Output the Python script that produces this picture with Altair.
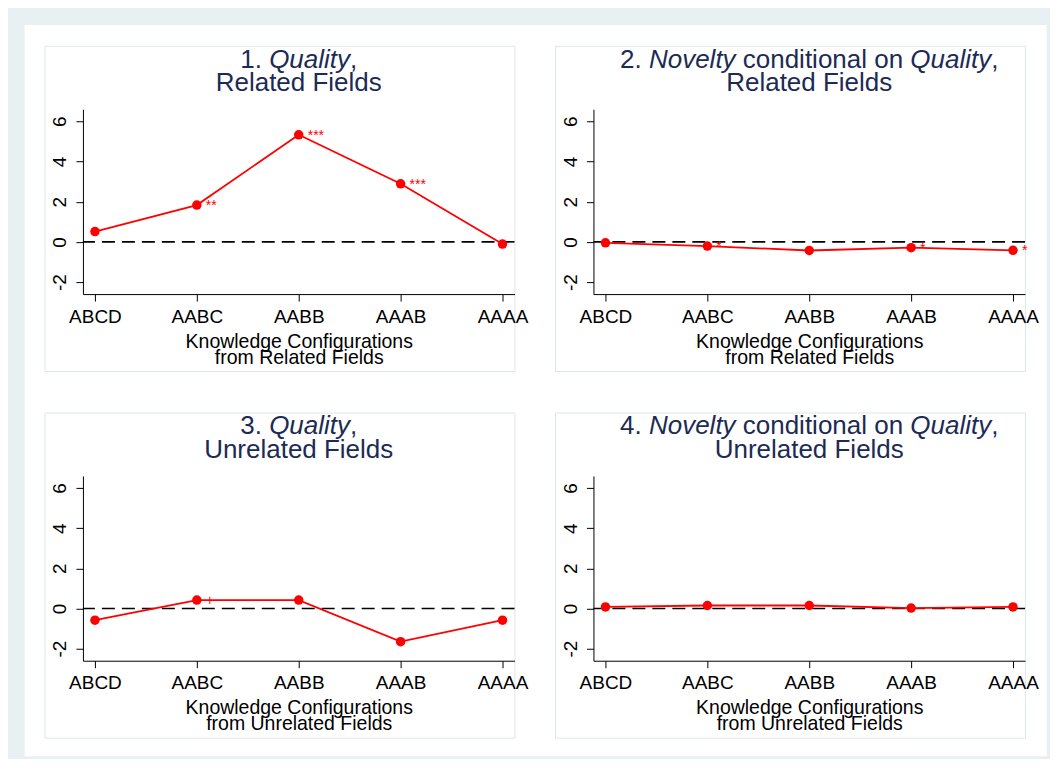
import altair as alt
import pandas as pd

# ---------------- data ----------------
cats = ["ABCD", "AABC", "AABB", "AAAB", "AAAA"]

q_rel = [0.51, 1.83, 5.33, 2.89, -0.11]
q_rel_sig = ["", "**", "***", "***", ""]

n_rel = [-0.05, -0.21, -0.43, -0.29, -0.42]
n_rel_sig = ["", "*", "", "*", "*"]

q_unrel = [-0.58, 0.42, 0.42, -1.65, -0.58]
q_unrel_sig = ["", "+", "", "", ""]

n_unrel = [0.08, 0.15, 0.15, 0.02, 0.08]
n_unrel_sig = ["", "", "", "", ""]

title_q1 = [("1. ", False), ("Quality", True), (",", False)]
title_n2 = [("2. ", False), ("Novelty", True), (" conditional on ", False), ("Quality", True), (",", False)]
title_q3 = [("3. ", False), ("Quality", True), (",", False)]
title_n4 = [("4. ", False), ("Novelty", True), (" conditional on ", False), ("Quality", True), (",", False)]
sub_rel = "Related Fields"
sub_unrel = "Unrelated Fields"
xt_rel = ["Knowledge Configurations", "from Related Fields"]
xt_unrel = ["Knowledge Configurations", "from Unrelated Fields"]

y_ticks = [-2, 0, 2, 4, 6]
y_domain = [-2.6, 6.6]

# ---------------- style ----------------
FONT = "Liberation Sans"
W, H = 432, 185
RED = "#ff0000"
NAVY = "#1c2b55"
FRAME = "#e9f0f2"
BOX = "#dde7ea"
TSIZE = 26

ARIAL = {' ': 278, '.': 278, ',': 278, '1': 556, '2': 556, '3': 556, '4': 556,
         'Q': 778, 'N': 722, 'R': 722, 'U': 722, 'F': 611,
         'u': 556, 'a': 556, 'l': 222, 'i': 222, 't': 278, 'y': 500, 'o': 556,
         'v': 500, 'e': 556, 'c': 500, 'n': 556, 'd': 556, 's': 500, 'r': 333}


def tw(s, size):
    return sum(ARIAL.get(ch, 556) for ch in s) * size / 1000.0


def text_piece(s, x, y, size, color, style="normal", align="left"):
    return alt.Chart(pd.DataFrame({"t": [s]})).mark_text(
        font=FONT, fontSize=size, color=color, fontStyle=style,
        align=align, baseline="alphabetic"
    ).encode(text="t:N", x=alt.value(x), y=alt.value(y))


def title_layers(segs, sub):
    total = sum(tw(s, TSIZE) for s, _ in segs)
    x = W / 2 - total / 2
    out = []
    for s, it in segs:
        lead = len(s) - len(s.lstrip(" "))
        out.append(text_piece(s.strip(" "), x + tw(" " * lead, TSIZE), -41.6, TSIZE, NAVY,
                              "italic" if it else "normal"))
        x += tw(s, TSIZE)
    out.append(text_piece(sub, W / 2, -18.3, TSIZE, NAVY, align="center"))
    return out


def rect(x1, x2, y1, y2, fill, stroke=None):
    kw = dict(fill=fill)
    if stroke:
        kw.update(stroke=stroke, strokeWidth=1)
    return alt.Chart(pd.DataFrame({"a": [0]})).mark_rect(**kw).encode(
        x=alt.value(x1), x2=alt.value(x2), y=alt.value(y1), y2=alt.value(y2))


def panel(vals, sig, segs, sub, xtitle, first=False):
    df = pd.DataFrame({"cat": cats, "val": vals, "sig": sig})
    base = alt.Chart(df).encode(
        x=alt.X("cat:N", sort=cats,
                scale=alt.Scale(type="point", padding=0.118),
                axis=alt.Axis(title=xtitle, labelAngle=0, labelFont=FONT, labelFontSize=19,
                              labelColor="black", labelPadding=6, tickSize=7,
                              tickColor="black", domainColor="black",
                              titleFont=FONT, titleFontSize=19.5, titleFontWeight="normal",
                              titleColor="black", titlePadding=6, titleLineHeight=16,
                              grid=False, zindex=1)),
        y=alt.Y("val:Q", scale=alt.Scale(domain=y_domain, nice=False, zero=False),
                axis=alt.Axis(values=y_ticks, title=None, labelAngle=270, labelAlign="center",
                              labelBaseline="alphabetic", labelFont=FONT, labelFontSize=19,
                              labelExpr="'' + datum.value",
                              labelColor="black", labelPadding=10, tickSize=7,
                              tickColor="black", domainColor="black", grid=False, zindex=1)),
    )
    layers = []
    if first:
        # outer frame and white page (kept inside the 1058x772 window)
        layers.append(rect(-74.3, 967.7, -100.3, 649.7, FRAME))
        layers.append(rect(-58.3, 964.7, -84.3, 647.7, "white"))
    layers.append(rect(-38, W + 0.4, -63, H + 77.5, "white", BOX))
    zero = alt.Chart(pd.DataFrame({"z": [0]})).mark_rule(
        color="black", strokeDash=[13, 7], strokeWidth=1.6).encode(y=alt.datum(0))
    layers.append(zero)
    layers.append(base.mark_line(color=RED, strokeWidth=1.8))
    layers.append(base.mark_circle(color=RED, size=90, opacity=1))
    layers.append(base.mark_text(font=FONT, fontSize=14, color=RED, align="left",
                                 baseline="alphabetic", dx=9, dy=5).encode(text="sig:N"))
    layers += title_layers(segs, sub)
    return alt.layer(*layers).properties(width=W, height=H)


p1 = panel(q_rel, q_rel_sig, title_q1, sub_rel, xt_rel, first=True)
p2 = panel(n_rel, n_rel_sig, title_n2, sub_rel, xt_rel)
p3 = panel(q_unrel, q_unrel_sig, title_q3, sub_unrel, xt_unrel)
p4 = panel(n_unrel, n_unrel_sig, title_n4, sub_unrel, xt_unrel)

chart = alt.concat(
    p1, p2, p3, p4, columns=2,
    spacing=alt.RowColnumber(row=182, column=79), bounds="flush"
).properties(padding=0, background=FRAME).configure_view(stroke=None)

chart.save("out.html", embed_options={"renderer": "svg", "actions": False})
